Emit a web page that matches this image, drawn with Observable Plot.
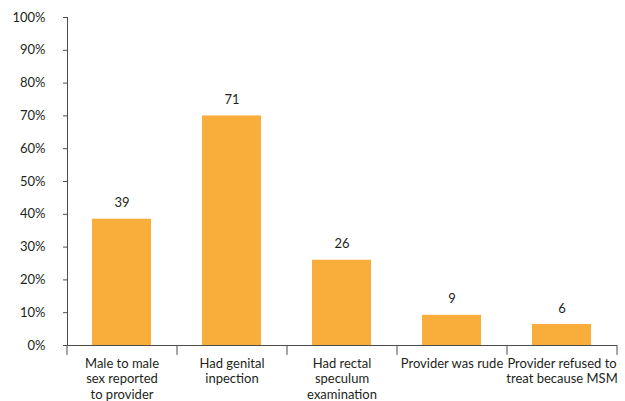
<!DOCTYPE html>
<html>
<head>
<meta charset="utf-8">
<script src="https://cdn.jsdelivr.net/npm/d3@7"></script>
<script src="https://cdn.jsdelivr.net/npm/@observablehq/plot@0.6"></script>
<style>
  html, body { margin: 0; padding: 0; background: #fff; }
  #chart { width: 625px; height: 401px; }
</style>
</head>
<body>
<div id="chart"></div>
<script>
const categories = [
  "Male to male\nsex reported\nto provider",
  "Had genital\ninpection",
  "Had rectal\nspeculum\nexamination",
  "Provider was rude",
  "Provider refused to\ntreat because MSM"
];
const percents = [38.5, 70, 26, 9.2, 6.4];
const valueLabels = ["39", "71", "26", "9", "6"];
const yTicks = [0, 10, 20, 30, 40, 50, 60, 70, 80, 90, 100];

const data = categories.map((c, i) => ({cat: c, pct: percents[i], label: valueLabels[i]}));

const axisColor = "#4d4d4d";
const textColor = "#231f20";

const chart = Plot.plot({
  width: 625,
  height: 401,
  marginLeft: 67,
  marginRight: 8,
  marginTop: 17,
  marginBottom: 56,
  style: {fontFamily: "Lato, sans-serif", fontSize: "13px", color: textColor, background: "#fff"},
  x: {domain: categories, paddingInner: 0.46, paddingOuter: 0.23, label: null},
  y: {domain: [0, 100], label: null},
  marks: [
    Plot.barY(data, {x: "cat", y: "pct", fill: "#f9ae3c"}),
    Plot.text(data, {x: "cat", y: "pct", text: "label", dy: -16, fill: textColor, fontSize: 13}),
    Plot.axisY({ticks: yTicks, tickFormat: d => d + "%", tickSize: 4, tickPadding: 18, stroke: axisColor, fill: textColor, label: null}),
    Plot.axisX({tickSize: 0, tickPadding: 11, fill: textColor, label: null, lineHeight: 1.2}),
    Plot.frame({anchor: "left", stroke: axisColor}),
    Plot.ruleY([0], {stroke: axisColor}),
    Plot.ruleX(categories, {x: d => d, dx: -55, y1: 0, y2: -3, stroke: axisColor}),
    Plot.ruleX([categories[categories.length - 1]], {x: d => d, dx: 55, y1: 0, y2: -3, stroke: axisColor})
  ]
});
document.getElementById("chart").appendChild(chart);
</script>
</body>
</html>
